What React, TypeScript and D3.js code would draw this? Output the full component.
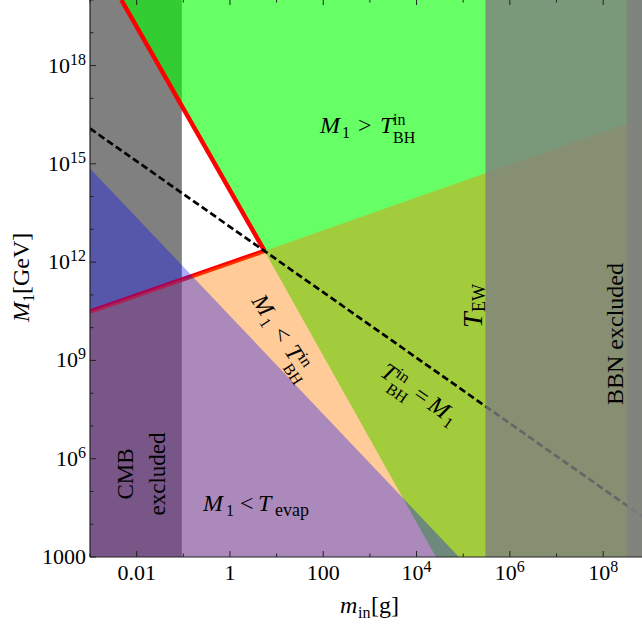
import React from 'react';
import * as d3 from 'd3';

// ---- data (m_in in g, M1 in GeV) ----
const X_DOMAIN: [number, number] = [1e-3, 1e9];
const Y_DOMAIN: [number, number] = [1e3, 1e20];

const steepBoundary: [number, number][] = [[4.7e-3, 1e20], [5.5, 2.2e12], [2.6e4, 1e3]];
const shallowBoundary: [number, number][] = [[1e-3, 3.1e10], [5.5, 2.2e12], [1e9, 3e16]];
const equalityLine: [number, number][] = [[1e-3, 1.2e16], [1e9, 1.2e4]];
const evapBoundary: [number, number][] = [[1e-3, 7.2e14], [8.1e4, 1e3]];
const cmbLimit = 0.093;
const ewLimit = 3e5;
const bbnLimit = 3.2e8;

const xMajorTicks = [1e-2, 1, 1e2, 1e4, 1e6, 1e8];
const xTickLabels: [string, string][] = [['0.01', ''], ['1', ''], ['100', ''], ['10', '4'], ['10', '6'], ['10', '8']];
const xMinorTicks = [1e-3, 1e-1, 10, 1e3, 1e5, 1e7, 1e9];
const yMajorTicks = [1e3, 1e6, 1e9, 1e12, 1e15, 1e18];
const yTickLabels: [string, string][] = [['1000', ''], ['10', '6'], ['10', '9'], ['10', '12'], ['10', '15'], ['10', '18']];
const yMinorTicks = [1e4, 1e5, 1e7, 1e8, 1e10, 1e11, 1e13, 1e14, 1e16, 1e17, 1e19, 1e20];

const FONT = '"Liberation Serif", "Times New Roman", serif';
const L = 90, R = 90 + 12 * 46.65, T = 0, B = 557;

type Piece = { t: string; x: number; y?: number; s?: number; i?: boolean };
function Rich({ x, y, rot = 0, size = 24, pieces }: { x: number; y: number; rot?: number; size?: number; pieces: Piece[] }) {
  return (
    <g transform={`translate(${x},${y}) rotate(${rot})`}>
      {pieces.map((p, k) => (
        <text key={k} x={p.x} y={p.y ?? 0} fontSize={p.s ?? size} fontStyle={p.i ? 'italic' : 'normal'} fontFamily={FONT} fill="#000">
          {p.t}
        </text>
      ))}
    </g>
  );
}

export default function App() {
  const x = d3.scaleLog().domain(X_DOMAIN).range([L, R]);
  const y = d3.scaleLog().domain(Y_DOMAIN).range([B, T]);
  const line = d3.line<[number, number]>().x(d => x(d[0])).y(d => y(d[1]));

  const greenPoly: [number, number][] = [...steepBoundary, [1e10, 1e3], [1e10, 1e20]];
  const orangePoly: [number, number][] = [...shallowBoundary, [1e10, 3e16], [1e10, 1e3], [1e-3, 1e3]];
  const bluePoly: [number, number][] = [...evapBoundary, [1e-3, 1e3]];

  return (
    <svg width={642} height={628} style={{ position: 'absolute', left: 0, top: 0, display: 'block', background: '#fff' }}>
      <defs>
        <clipPath id="plot">
          <rect x={L} y={T} width={R - L} height={B - T} />
        </clipPath>
      </defs>
      <g clipPath="url(#plot)">
        <rect x={x(X_DOMAIN[0])} y={T} width={x(cmbLimit) - x(X_DOMAIN[0])} height={B - T} fill="#808080" />
        <path d={line(shallowBoundary.slice(0, 2))!} stroke="#ff0000" strokeWidth={4.5} fill="none" />
        <path d={line(greenPoly)! + 'Z'} fill="rgb(0,255,0)" fillOpacity={0.6} />
        <path d={line(orangePoly)! + 'Z'} fill="rgb(255,128,0)" fillOpacity={0.4} />
        <path d={line(bluePoly)! + 'Z'} fill="rgb(0,0,255)" fillOpacity={0.33} />
        <path d={line(steepBoundary.slice(0, 2))!} stroke="#ff0000" strokeWidth={4.5} fill="none" />
        <path d={line(equalityLine)!} stroke="#000" strokeWidth={2.7} strokeDasharray="7 3.5" fill="none" />
        <rect x={x(ewLimit)} y={T} width={R - x(ewLimit)} height={B - T} fill="#808080" fillOpacity={0.8} />
        <rect x={x(bbnLimit)} y={T} width={R - x(bbnLimit)} height={B - T} fill="#808080" fillOpacity={0.8} />
      </g>

      {/* region labels */}
      <Rich x={320} y={133} pieces={[
        { t: 'M', x: 0, i: true }, { t: '1', x: 22, y: 5, s: 16 }, { t: '>', x: 38 },
        { t: 'T', x: 60, i: true }, { t: 'in', x: 73, y: -8, s: 16 }, { t: 'BH', x: 73, y: 10, s: 16 },
      ]} />
      <Rich x={203} y={511} pieces={[
        { t: 'M', x: 0, i: true }, { t: '1', x: 23, y: 5, s: 16 }, { t: '<', x: 37 },
        { t: 'T', x: 55, i: true }, { t: 'evap', x: 72, y: 5, s: 18 },
      ]} />
      <Rich x={251} y={301} rot={57} pieces={[
        { t: 'M', x: 0, i: true }, { t: '1', x: 22, y: 5, s: 16 }, { t: '<', x: 38 },
        { t: 'T', x: 60, i: true }, { t: 'in', x: 73, y: -8, s: 16 }, { t: 'BH', x: 73, y: 10, s: 16 },
      ]} />
      <Rich x={379} y={375} rot={35} pieces={[
        { t: 'T', x: 0, i: true }, { t: 'in', x: 14, y: -8, s: 16 }, { t: 'BH', x: 14, y: 10, s: 16 },
        { t: '=', x: 40 }, { t: 'M', x: 58, i: true }, { t: '1', x: 80, y: 5, s: 16 },
      ]} />
      <Rich x={482} y={328} rot={-90} pieces={[
        { t: 'T', x: 0, i: true, s: 28 }, { t: 'EW', x: 16, y: 3, s: 18 },
      ]} />
      <text transform="translate(623,334) rotate(-90)" textAnchor="middle" fontSize={24} fontFamily={FONT}>BBN excluded</text>
      <text transform="translate(133,474) rotate(-90)" textAnchor="middle" fontSize={23} fontFamily={FONT}>CMB</text>
      <text transform="translate(165,474) rotate(-90)" textAnchor="middle" fontSize={23} fontFamily={FONT}>excluded</text>

      {/* axes */}
      <line x1={L} y1={T} x2={L} y2={B} stroke="#222" strokeWidth={1.2} />
      <line x1={L} y1={B} x2={R} y2={B} stroke="#222" strokeWidth={1.2} />
      {yMajorTicks.map(v => <line key={'ym' + v} x1={L} x2={L + 6} y1={y(v)} y2={y(v)} stroke="#222" />)}
      {yMinorTicks.map(v => <line key={'yn' + v} x1={L} x2={L + 3.5} y1={y(v)} y2={y(v)} stroke="#222" />)}
      {xMajorTicks.map(v => <line key={'xm' + v} x1={x(v)} x2={x(v)} y1={B} y2={B - 6} stroke="#222" />)}
      {xMinorTicks.map(v => <line key={'xn' + v} x1={x(v)} x2={x(v)} y1={B} y2={B - 3.5} stroke="#222" />)}
      {xMajorTicks.map(v => <line key={'tm' + v} x1={x(v)} x2={x(v)} y1={0} y2={5} stroke="#222" />)}
      {xMinorTicks.map(v => <line key={'tn' + v} x1={x(v)} x2={x(v)} y1={0} y2={2.5} stroke="#222" />)}

      {yMajorTicks.map((v, k) => (
        <text key={'yl' + v} x={86} y={y(v) + 7} textAnchor="end" fontSize={22} fontFamily={FONT}>
          {yTickLabels[k][0]}
          {yTickLabels[k][1] && <tspan fontSize={16} dy={-8}>{yTickLabels[k][1]}</tspan>}
        </text>
      ))}
      {xMajorTicks.map((v, k) => (
        <text key={'xl' + v} x={x(v)} y={580} textAnchor="middle" fontSize={22} fontFamily={FONT}>
          {xTickLabels[k][0]}
          {xTickLabels[k][1] && <tspan fontSize={16} dy={-8}>{xTickLabels[k][1]}</tspan>}
        </text>
      ))}

      <Rich x={29} y={322} rot={-90} pieces={[
        { t: 'M', x: 0, i: true }, { t: '1', x: 20, y: 5, s: 16 }, { t: '[GeV]', x: 28 },
      ]} />
      <Rich x={340} y={613} pieces={[
        { t: 'm', x: 0, i: true }, { t: 'in', x: 18, y: 5, s: 16 }, { t: '[g]', x: 31 },
      ]} />
    </svg>
  );
}
